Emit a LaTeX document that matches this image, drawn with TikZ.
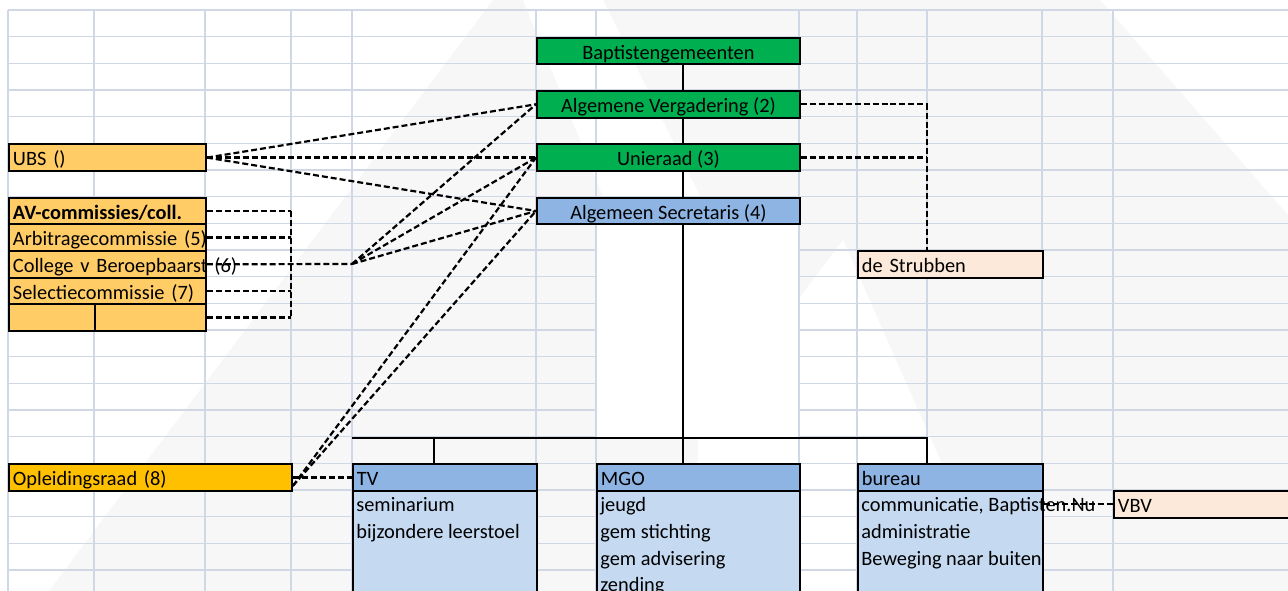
\documentclass[tikz,border=0pt]{standalone}
\usepackage{fontspec}
\setmainfont{Carlito}
\usetikzlibrary{calc}
\definecolor{gridblue}{RGB}{208,215,229}
\definecolor{xlgreen}{RGB}{0,176,80}
\definecolor{xlblue}{RGB}{141,180,226}
\definecolor{xlpale}{RGB}{197,217,241}
\definecolor{xlgold}{RGB}{255,204,102}
\definecolor{xlorange}{RGB}{255,192,0}
\definecolor{xlpeach}{RGB}{253,233,217}

\begin{document}
\begin{tikzpicture}[x=0.02cm,y=-0.02cm,
  gridline/.style={gridblue,line width=0.8pt},
  wmark/.style={fill=black!3},
  box/.style={draw=black,line width=1.1pt,inner sep=0pt,anchor=north west,minimum height=0.533cm,text height=12pt,text depth=2.6pt,font=\fontsize{11.6}{13}\selectfont},
  lbox/.style={box,inner xsep=0.08cm,align=left},
  item/.style={anchor=base west,inner sep=0pt,font=\fontsize{11.6}{13}\selectfont},
  wire/.style={line width=1.1pt},
  link/.style={line width=1.25pt,dash pattern=on 3.4pt off 1.7pt}]
\useasboundingbox (0,0) rectangle (1288,591);
\fill[wmark] (493,0) -- (49,591) -- (1288,591) -- (1288,215) -- (1100,0) -- cycle;
\fill[white] (523,0) -- (603,0) -- (770,337) -- (843,240) -- (998,591) -- (698,591) -- (698,430) -- cycle;
\foreach \x in {8,94,205,291,352,536,596,799,857,927,1042,1113}
  \draw[gridline] (\x,10) -- (\x,600);
\foreach \k in {0,...,22}
  \draw[gridline] (8,10+26.667*\k) -- (1300,10+26.667*\k);
\fill[white] (597,224) rectangle (798,437);

\node (bg) at (536,36.7) [box,fill=xlgreen,minimum width=5.26cm] {Baptistengemeenten};
\node (av) at (536,90) [box,fill=xlgreen,minimum width=5.26cm] {Algemene Vergadering (2)};
\node (ur) at (536,143.3) [box,fill=xlgreen,minimum width=5.26cm] {Unieraad (3)};
\node (as) at (536,196.7) [box,fill=xlblue,minimum width=5.26cm] {Algemeen Secretaris (4)};

\node (ubs) at (8,143.3) [lbox,fill=xlgold,text width=3.78cm] {UBS ()};
\node (avc) at (8,196.7) [lbox,fill=xlgold,text width=3.78cm] {\textbf{AV-commissies/coll.}};
\node (arb) at (8,223.3) [lbox,fill=xlgold,text width=3.78cm] {\mbox{Arbitragecommissie (5)}};
\node (col) at (8,250) [lbox,fill=xlgold,text width=3.78cm] {\mbox{College v Beroepbaarst (6)}};
\node (sel) at (8,276.7) [lbox,fill=xlgold,text width=3.78cm] {\mbox{Selectiecommissie (7)}};
\node (empa) at (8,303.3) [box,fill=xlgold,minimum width=1.72cm] {};
\node (empb) at (94,303.3) [box,fill=xlgold,minimum width=2.22cm] {};
\node (opl) at (8,463.3) [lbox,fill=xlorange,text width=5.50cm] {Opleidingsraad (8)};

\node (strub) at (857,250) [lbox,fill=xlpeach,text width=3.54cm] {de Strubben};

\node (tv) at (352,463.3) [lbox,fill=xlblue,text width=3.52cm] {TV};
\node (tvb) at (352,490) [box,fill=xlpale,minimum width=3.68cm,minimum height=2.4cm] {};
\node (mgo) at (596,463.3) [lbox,fill=xlblue,text width=3.90cm] {MGO};
\node (mgob) at (596,490) [box,fill=xlpale,minimum width=4.06cm,minimum height=2.4cm] {};
\node (bur) at (857,463.3) [lbox,fill=xlblue,text width=3.54cm] {bureau};
\node (burb) at (857,490) [box,fill=xlpale,minimum width=3.70cm,minimum height=2.4cm] {};
\node (vbv) at (1113,490) [lbox,fill=xlpeach,text width=3.74cm] {VBV};

\coordinate (spine) at (683,0);
\coordinate (riser) at (927,0);
\coordinate (comb) at (291,0);
\coordinate (hub) at (352,264);
\coordinate (bar) at (0,438);
\coordinate (tvdrop) at (434,438);
\coordinate (oplc) at ($(opl.south east)+(0,-6)$);

\draw[wire] (bg.south -| spine) -- (av.north -| spine);
\draw[wire] (av.south -| spine) -- (ur.north -| spine);
\draw[wire] (ur.south -| spine) -- (as.north -| spine);
\draw[wire] (as.south -| spine) -- (mgo.north -| spine);
\draw[wire] (tv.north west |- bar) -| (bur.north -| riser);
\draw[wire] (tvdrop) -- (tvdrop |- tv.north);

\draw[link] (av.east) -| (strub.north -| riser);
\draw[link] (ur.east) -- (ur.east -| riser);
\foreach \t in {av,ur,as}
  \draw[link] (ubs.east) -- (\t.west);
\foreach \t in {avc,arb,sel,empb}
  \draw[link] (\t.east) -- (\t.east -| comb);
\draw[link] (avc.east -| comb) -- (empb.east -| comb);
\draw[link] (col.east) -- (hub);
\foreach \t in {av,ur,as}
  \draw[link] (hub) -- (\t.west);
\foreach \t in {ur,as}
  \draw[link] (oplc) -- (\t.west);
\draw[link] (opl.east) -- (tv.west);
\draw[link] (burb.east |- vbv.west) -- (vbv.west);

\node (tv1) at (356,511.7) [item] {seminarium};
\node (tv2) at (356,538.3) [item] {bijzondere leerstoel};
\node (mgo1) at (600,511.7) [item] {jeugd};
\node (mgo2) at (600,538.3) [item] {gem stichting};
\node (mgo3) at (600,565) [item] {gem advisering};
\node (mgo4) at (600,591.7) [item] {zending};
\node (bur1) at (861,511.7) [item] {communicatie, Baptisten.Nu};
\node (bur2) at (861,538.3) [item] {administratie};
\node (bur3) at (861,565) [item] {Beweging naar buiten};
\end{tikzpicture}
\end{document}
